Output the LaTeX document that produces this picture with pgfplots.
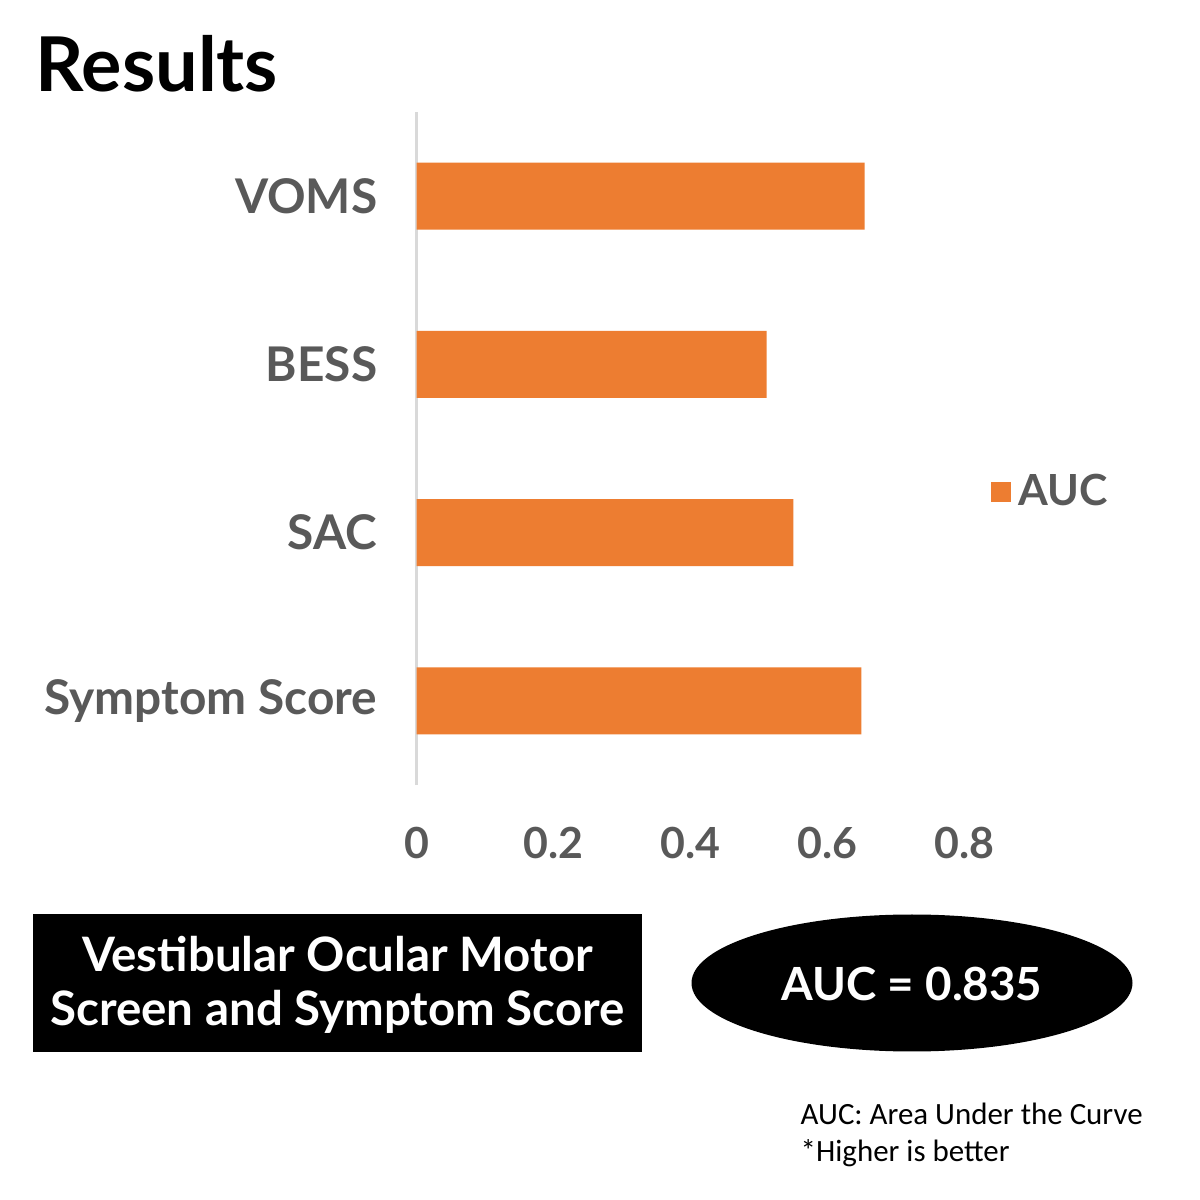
\documentclass[border=0pt]{standalone}
\usepackage{pgfplots}
\pgfplotsset{compat=1.18}
\usepackage{fontspec}
\setmainfont{Lato}
\newfontfamily\carlito{Carlito}
\definecolor{barorange}{HTML}{ED7D31}
\definecolor{txtgray}{HTML}{595959}
\definecolor{axgray}{HTML}{D9D9D9}
\begin{document}
\begin{tikzpicture}
\fill[white] (0cm,0cm) rectangle (12cm,12cm);
\path[use as bounding box] (0cm,0cm) rectangle (12cm,12cm);
\node[anchor=base west, inner sep=0pt, font=\fontsize{21.5}{25}\selectfont\bfseries] at (0.35cm,11.08cm) {Results};
\begin{axis}[
  at={(4.167cm,4.15cm)}, anchor=south west,
  scale only axis, width=5.48cm, height=6.73cm,
  xmin=0, xmax=0.8, ymin=-0.5, ymax=3.5,
  xbar, bar width=0.67cm,
  axis lines*=left,
  x axis line style={draw=none},
  y axis line style={draw=axgray, line width=0.8pt},
  major tick length=0pt,
  xtick={0,0.2,0.4,0.6,0.8},
  xticklabels={0,0.2,0.4,0.6,0.8},
  ytick={0,1,2,3},
  yticklabels={Symptom Score,SAC,BESS,VOMS},
  ticklabel style={font=\fontsize{12.2}{14}\selectfont\bfseries, text=txtgray},
  xticklabel style={anchor=north, yshift=-0.3cm},
  yticklabel style={anchor=east, xshift=-0.27cm, font=\fontsize{13.6}{15}\selectfont\bfseries},
  legend style={at={(1.028,0.435)}, anchor=west, draw=none, fill=none,
    font=\fontsize{12.2}{14}\selectfont\bfseries, text=txtgray},
  legend image code/.code={\fill[barorange] (0cm,-0.1cm) rectangle (0.2cm,0.1cm);},
]
\addplot[fill=barorange, draw=none] coordinates {(0.649,0) (0.550,1) (0.511,2) (0.654,3)};
\addlegendentry{AUC}
\end{axis}
\fill[black] (0.33cm,2.86cm) rectangle (6.42cm,1.48cm);
\node[align=center, text=white, font=\fontsize{13.5}{15.4}\selectfont\bfseries] at (3.375cm,2.15cm) {Vestibular Ocular Motor\\Screen and Symptom Score};
\fill[black] (9.12cm,2.17cm) ellipse [x radius=2.205cm, y radius=0.685cm];
\node[text=white, font=\fontsize{13}{15}\selectfont\bfseries] at (9.12cm,2.16cm) {AUC = 0.835};
\node[anchor=base west, inner sep=0pt, font=\carlito\fontsize{8.8}{10}\selectfont] at (8.0cm,0.76cm) {AUC: Area Under the Curve};
\node[anchor=base west, inner sep=0pt, font=\carlito\fontsize{8.8}{10}\selectfont] at (8.0cm,0.39cm) {*Higher is better};
\end{tikzpicture}
\end{document}
